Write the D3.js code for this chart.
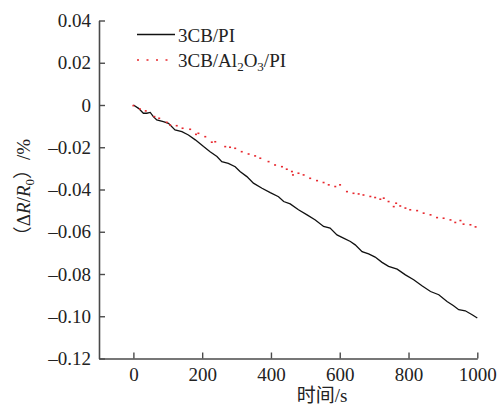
<!DOCTYPE html>
<html><head><meta charset="utf-8">
<script src="https://cdn.jsdelivr.net/npm/d3@7"></script>
<style>
html,body{margin:0;padding:0;background:#fff;}
</style></head>
<body><svg id="c" width="501" height="406"></svg>
<script>
// Data
const xTicks = [0, 200, 400, 600, 800, 1000];
const yTicks = [0.04, 0.02, 0, -0.02, -0.04, -0.06, -0.08, -0.10, -0.12];
const yTickLabels = ["0.04", "0.02", "0", "\u20130.02", "\u20130.04", "\u20130.06", "\u20130.08", "\u20130.10", "\u20130.12"];
const seriesNames = ["3CB/PI", "3CB/Al2O3/PI"];

const pi_t = [0,15,29,39,49,58,68,87,102,121,141,160,180,204,223,243,257,276,296,310,330,349,374,398,422,437,456,480,505,529,553,572,592,611,631,645,665,684,703,723,742,767,791,815,839,864,888,912,931,946,965,985,1000];
const pi_v = [0,-0.0016,-0.0039,-0.0039,-0.0035,-0.0055,-0.0071,-0.0079,-0.0087,-0.0118,-0.0126,-0.0142,-0.0165,-0.0197,-0.0221,-0.0244,-0.0268,-0.0276,-0.0292,-0.0315,-0.0339,-0.037,-0.0394,-0.0415,-0.0434,-0.0457,-0.0468,-0.0496,-0.052,-0.0544,-0.0575,-0.0583,-0.0615,-0.063,-0.0646,-0.0662,-0.0694,-0.0705,-0.072,-0.0745,-0.0764,-0.0777,-0.0804,-0.0827,-0.0856,-0.0883,-0.0898,-0.093,-0.095,-0.0969,-0.0974,-0.0993,-0.1008];

const al_t = [0,19,36,61,75,97,107,126,143,165,182,189,209,228,238,267,281,296,315,335,354,369,393,412,432,446,461,464,480,495,514,534,553,568,587,601,621,640,655,669,689,703,718,728,742,757,764,776,791,805,825,844,864,883,902,922,936,951,960,980,995];
const al_v = [-0.0003,-0.0019,-0.0028,-0.0055,-0.0063,-0.0082,-0.0095,-0.0098,-0.011,-0.0115,-0.0139,-0.0134,-0.015,-0.0176,-0.0174,-0.0197,-0.020,-0.0205,-0.0221,-0.0232,-0.0241,-0.0252,-0.0268,-0.0284,-0.0292,-0.0304,-0.0315,-0.0331,-0.0323,-0.0331,-0.0347,-0.0358,-0.0367,-0.0378,-0.0386,-0.0378,-0.041,-0.0418,-0.0421,-0.0426,-0.0433,-0.0438,-0.0446,-0.0441,-0.0457,-0.0481,-0.0465,-0.0478,-0.0488,-0.0496,-0.05,-0.0512,-0.052,-0.0533,-0.0536,-0.0544,-0.0556,-0.0547,-0.0564,-0.0567,-0.0577];

const FONT = '"Liberation Serif", "Noto Sans CJK SC", serif';
const svg = d3.select("#c");
const axisColor = "#4a4a4a";
const red = "#e8282e";

const x = d3.scaleLinear().domain([-100, 1000]).range([99, 477.3]);
const y = d3.scaleLinear().domain([-0.12, 0.04]).range([358.5, 20.5]);

// X axis (ticks pointing inward)
const xAxis = svg.append("g").attr("transform", `translate(0,${y(-0.12)})`)
  .call(d3.axisBottom(x).tickValues(xTicks).tickSize(-6).tickSizeOuter(0).tickPadding(9).tickFormat(d3.format("d")));
xAxis.attr("font-family", null).attr("font-size", null);
xAxis.select(".domain").attr("stroke", axisColor).attr("stroke-width", 1.6);
xAxis.selectAll(".tick line").attr("stroke", axisColor).attr("stroke-width", 1.4);
xAxis.selectAll(".tick text").style("font-size", "19px").style("fill", "#222")
  .style("font-family", FONT).attr("dy", "0.71em");

// Y axis (ticks pointing inward)
const yAxis = svg.append("g").attr("transform", `translate(${x(-100)},0)`)
  .call(d3.axisLeft(y).tickValues(yTicks).tickSize(-6).tickSizeOuter(0).tickPadding(8)
    .tickFormat((d, i) => yTickLabels[i]));
yAxis.attr("font-family", null).attr("font-size", null);
yAxis.select(".domain").attr("stroke", axisColor).attr("stroke-width", 1.6);
yAxis.selectAll(".tick line").attr("stroke", axisColor).attr("stroke-width", 1.4);
yAxis.selectAll(".tick text").style("font-size", "19px").style("fill", "#222")
  .style("font-family", FONT);

// Series: 3CB/PI black line
const piData = pi_t.map((t, i) => [t, pi_v[i]]);
svg.append("path").datum(piData)
  .attr("fill", "none").attr("stroke", "#111").attr("stroke-width", 1.3)
  .attr("d", d3.line().x(d => x(d[0])).y(d => y(d[1])));

// Series: 3CB/Al2O3/PI red dots
const alData = al_t.map((t, i) => [t, al_v[i]]);
svg.append("g").selectAll("rect").data(alData).join("rect")
  .attr("x", d => x(d[0]) - 1).attr("y", d => y(d[1]) - 0.8)
  .attr("width", 2).attr("height", 1.6).attr("fill", red);

// Legend
const lg = svg.append("g").style("font-family", FONT).style("fill", "#222");
lg.append("line").attr("x1", 137).attr("x2", 175).attr("y1", 34.5).attr("y2", 34.5)
  .attr("stroke", "#111").attr("stroke-width", 1.4);
lg.append("text").attr("x", 178).attr("y", 41.5).style("font-size", "19px").text(seriesNames[0]);
lg.append("line").attr("x1", 137).attr("x2", 168).attr("y1", 60).attr("y2", 60)
  .attr("stroke", red).attr("stroke-width", 1.6).attr("stroke-dasharray", "2,7.5");
const t2 = lg.append("text").attr("x", 178).attr("y", 67).style("font-size", "19px");
t2.append("tspan").text("3CB/Al");
t2.append("tspan").style("font-size", "13px").attr("dy", 4).text("2");
t2.append("tspan").attr("dy", -4).text("O");
t2.append("tspan").style("font-size", "13px").attr("dy", 4).text("3");
t2.append("tspan").attr("dy", -4).text("/PI");

// Axis titles
svg.append("text").attr("x", 322).attr("y", 402).attr("text-anchor", "middle")
  .style("font-family", FONT).style("font-size", "19px").style("fill", "#222").text("时间/s");

const yl = svg.append("text").attr("transform", "translate(30,192) rotate(-90)")
  .attr("text-anchor", "middle").style("font-family", FONT).style("font-size", "19px").style("fill", "#222");
yl.append("tspan").text("（Δ");
yl.append("tspan").style("font-style", "italic").text("R");
yl.append("tspan").text("/");
yl.append("tspan").style("font-style", "italic").text("R");
yl.append("tspan").style("font-size", "13px").attr("dy", 4).text("0");
yl.append("tspan").attr("dy", -4).text("）/%");
</script></body></html>
